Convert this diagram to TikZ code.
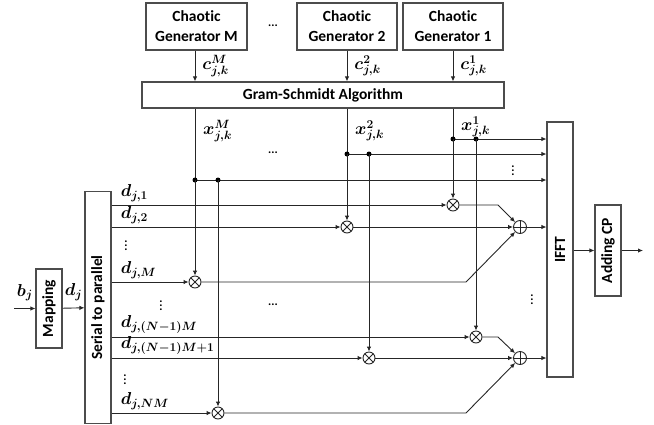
\documentclass[tikz,border=0pt]{standalone}
\usepackage{fontspec}
\setmainfont[Ligatures=NoCommon]{Carlito}
\usepackage{bm}
\usetikzlibrary{arrows.meta}

\tikzset{
    blk/.style={draw=black!70, line width=1.1pt, inner sep=0pt, font=\bfseries\fontsize{15.5}{20}\selectfont, align=center},
    ln/.style={draw=black!85, line width=0.9pt},
    arr/.style={ln, -{Latex[length=5pt,width=4.5pt]}},
    lbl/.style={font=\fontsize{18}{20}\selectfont, inner sep=0pt},
    dots/.style={font=\bfseries\fontsize{12}{14}\selectfont, inner sep=0pt},
    dot/.style={circle, fill=black, inner sep=0pt, minimum size=5pt},
    mul/.style={circle, draw=black!85, line width=0.9pt, minimum size=12pt, inner sep=0pt,
        path picture={\draw[line width=0.8pt] (path picture bounding box.north west) -- (path picture bounding box.south east)
            (path picture bounding box.south west) -- (path picture bounding box.north east);}},
    add/.style={circle, draw=black!85, line width=0.9pt, minimum size=13pt, inner sep=0pt,
        path picture={\draw[line width=0.8pt] (path picture bounding box.north) -- (path picture bounding box.south)
            (path picture bounding box.west) -- (path picture bounding box.east);}},
}

\begin{document}
\begin{tikzpicture}[x=1pt, y=-1pt]
    \useasboundingbox (0,0) rectangle (654,424);

    % Generatori caotici e Gram-Schmidt
    \node[blk, minimum width=101, minimum height=47] (genM) at (196.5,26.5) {Chaotic\\Generator M};
    \node[blk, minimum width=100, minimum height=47] (gen2) at (347,26.5) {Chaotic\\Generator 2};
    \node[blk, minimum width=100, minimum height=47] (gen1) at (453,26.5) {Chaotic\\Generator 1};
    \node[dots] (gdots) at (273,26) {...};
    \node[blk, minimum width=362, minimum height=26] (gs) at (323,95) {Gram-Schmidt Algorithm};

    \draw[arr] (genM.south -| 195,0) -- (gs.north -| 195,0) node[lbl, midway, right=7pt] {$\bm{c_{j,k}^{M}}$};
    \draw[arr] (gen2) -- (gs.north -| gen2) node[lbl, midway, right=7pt] {$\bm{c_{j,k}^{2}}$};
    \draw[arr] (gen1) -- (gs.north -| gen1) node[lbl, midway, right=7pt] {$\bm{c_{j,k}^{1}}$};

    % Blocchi
    \node[blk, minimum width=26, minimum height=79] (map) at (49,308.5) {\rotatebox{90}{Mapping}};
    \node[blk, minimum width=26, minimum height=232] (sp) at (98,307.5) {\rotatebox{90}{Serial to parallel}};
    \node[blk, minimum width=26, minimum height=255] (ifft) at (560,249.5) {\rotatebox{90}{IFFT}};
    \node[blk, minimum width=26, minimum height=91] (cp) at (608,250.5) {\rotatebox{90}{Adding CP}};

    \coordinate (in) at (14,308.5);
    \coordinate (out) at (643,250.5);
    \draw[arr] (in) -- (map) node[lbl, pos=0.5, above=7pt] {$\bm{b_j}$};
    \draw[arr] (map) -- (sp) node[lbl, midway, above=7pt] {$\bm{d_j}$};
    \draw[arr] (cp.west -| ifft.east) -- (cp);
    \draw[arr] (cp) -- (out);

    % Punti di diramazione
    \coordinate (jM) at (195,180);  \coordinate (jM2) at (218,180);
    \coordinate (j2) at (347,154);  \coordinate (j22) at (369,154);
    \coordinate (j1) at (453,139);  \coordinate (j12) at (476,139);

    % Moltiplicatori e sommatori
    \node[mul] (mA1) at (453,205) {};
    \node[mul] (mA2) at (347,227) {};
    \node[mul] (mAM) at (195,282) {};
    \node[mul] (mB1) at (476,337) {};
    \node[mul] (mB2) at (369,358) {};
    \node[mul] (mBM) at (218,413) {};
    \node[add] (addA) at (520,227) {};
    \node[add] (addB) at (520,358) {};
    \coordinate (kA1) at (498,205); \coordinate (kAM) at (466,282);
    \coordinate (kB1) at (498,337); \coordinate (kBM) at (466,413);

    % Sequenze x
    \draw[ln] (gs.south -| jM) -- (jM);
    \draw[ln] (gs.south -| j2) -- (j2);
    \draw[ln] (gs.south -| j1) -- (j1);
    \node[lbl, anchor=west] (xM) at (203,131) {$\bm{x_{j,k}^{M}}$};
    \node[lbl, anchor=west] (x2) at (355,131) {$\bm{x_{j,k}^{2}}$};
    \node[lbl, anchor=west] (x1) at (461,127) {$\bm{x_{j,k}^{1}}$};
    \foreach \a/\b in {jM/jM2, j2/j22, j1/j12} {
        \draw[arr] (\a) -- (\a -| ifft.west);
        \node[dot] at (\a) {};
        \node[dot] at (\b) {};
    }
    \draw[arr] (jM) -- (mAM);
    \draw[arr] (jM2) -- (mBM);
    \draw[arr] (j2) -- (mA2);
    \draw[arr] (j22) -- (mB2);
    \draw[arr] (j1) -- (mA1);
    \draw[arr] (j12) -- (mB1);

    % Rami d
    \foreach \m/\t in {mA1/{d_{j,1}}, mA2/{d_{j,2}}, mAM/{d_{j,M}}, mB1/{d_{j,(N-1)M}}, mB2/{d_{j,(N-1)M+1}}, mBM/{d_{j,NM}}} {
        \draw[arr] (\m -| sp.east) -- (\m);
        \node[lbl, anchor=south west] at ([xshift=9pt, yshift=3pt]\m -| sp.east) {$\bm{\t}$};
    }
    \draw[arr] (mA1) -- (kA1) -- (addA);
    \draw[arr] (mA2) -- (addA);
    \draw[arr] (mAM) -- (kAM) -- (addA);
    \draw[arr] (mB1) -- (kB1) -- (addB);
    \draw[arr] (mB2) -- (addB);
    \draw[arr] (mBM) -- (kBM) -- (addB);
    \draw[arr] (addA) -- (addA -| ifft.west);
    \draw[arr] (addB) -- (addB -| ifft.west);

    % Puntini
    \node[dots] (hdA) at (273,153) {...};
    \node[dots] (hdB) at (273,305) {...};
    \node[dots] (vdA) at (126,243) {$\bm{\vdots}$};
    \node[dots] (vdB) at (161,303) {$\bm{\vdots}$};
    \node[dots] (vdC) at (125,377) {$\bm{\vdots}$};
    \node[dots] (vdD) at (513,168) {$\bm{\vdots}$};
    \node[dots] (vdE) at (532,297) {$\bm{\vdots}$};
\end{tikzpicture}
\end{document}
